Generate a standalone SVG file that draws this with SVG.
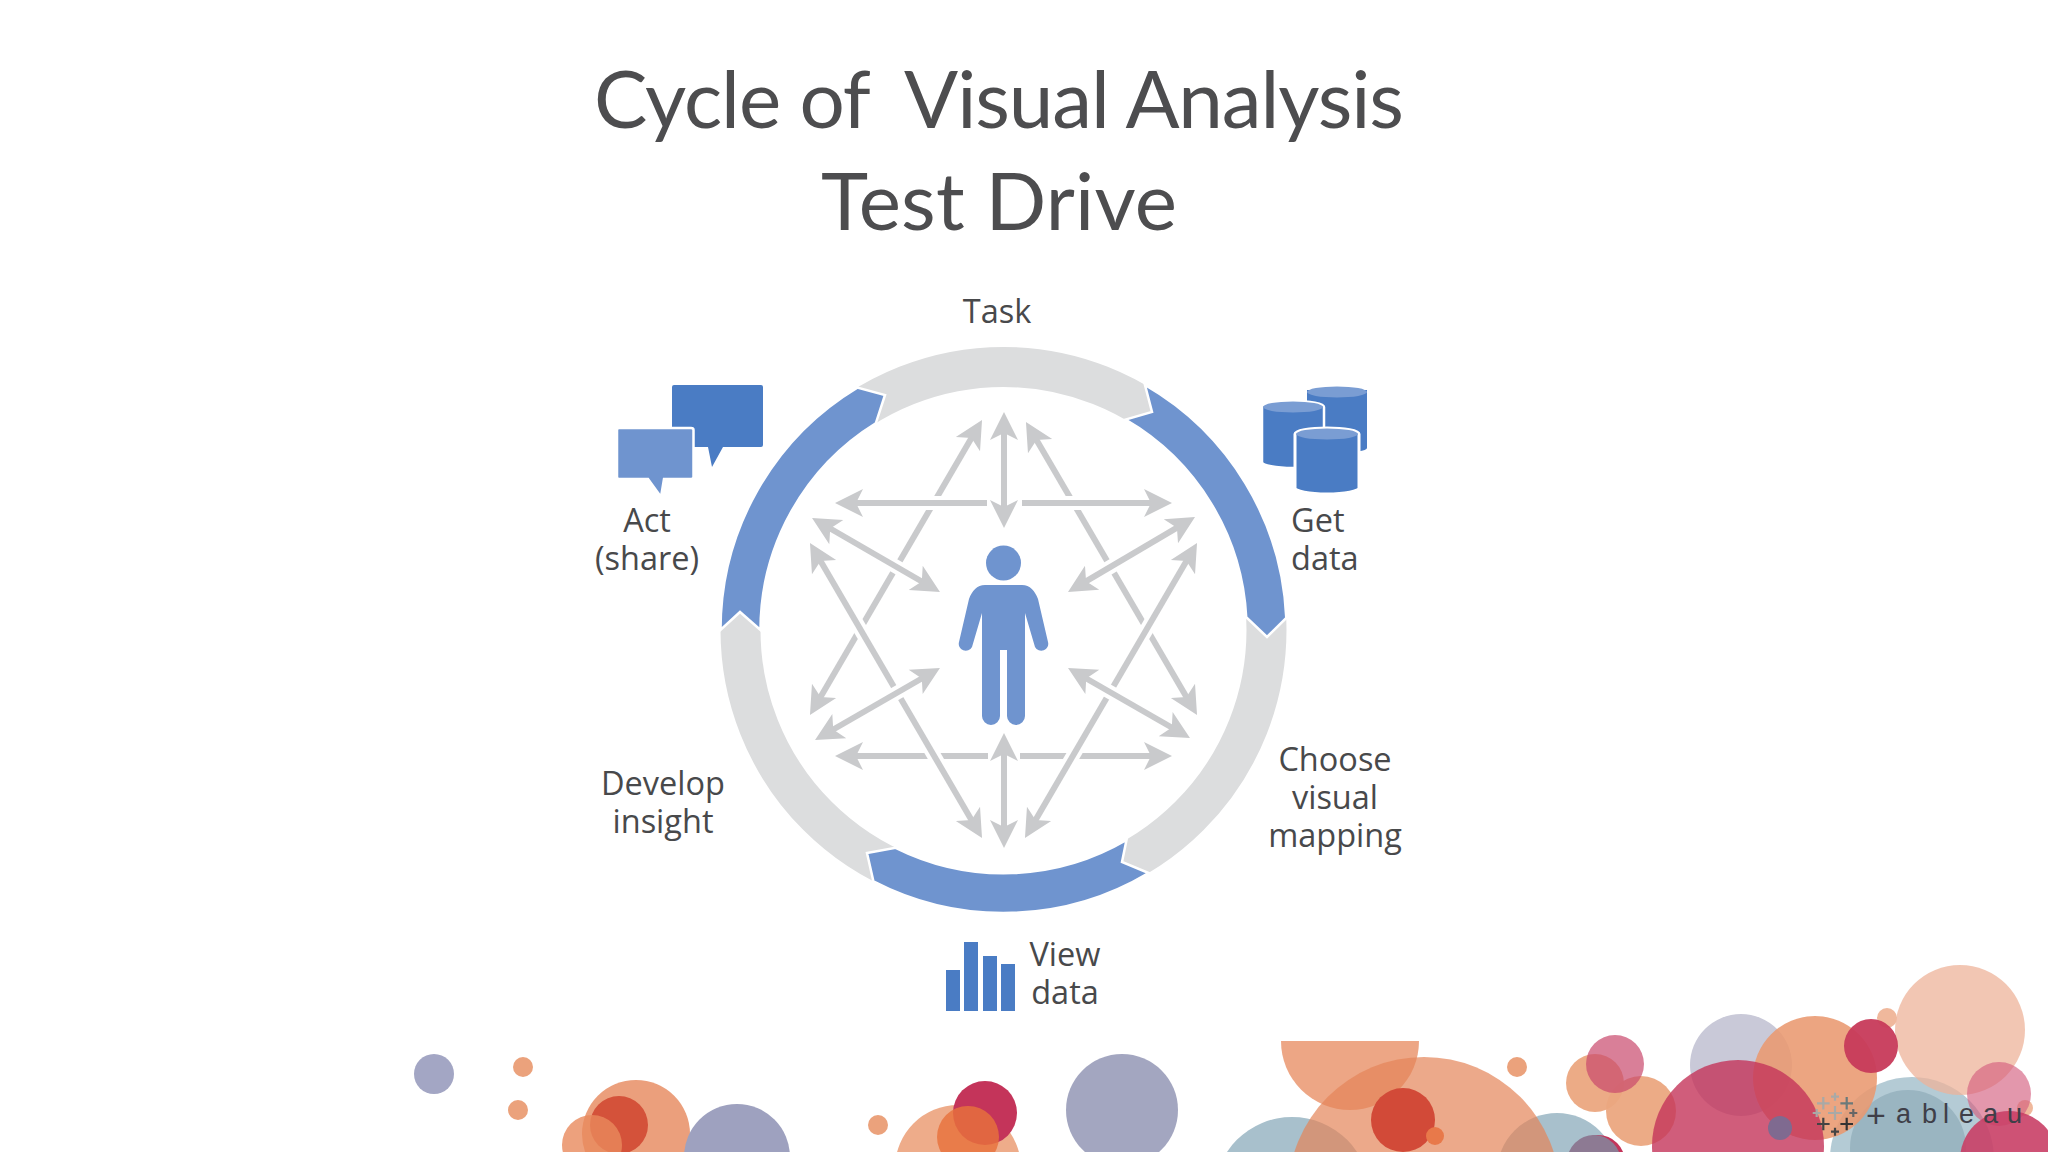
<svg xmlns="http://www.w3.org/2000/svg" width="2048" height="1152" viewBox="0 0 2048 1152">
<style>
.t{font-family:"Lato","Liberation Sans",sans-serif;font-size:80px;fill:#4d4d4f;text-anchor:middle;white-space:pre}
.l{font-family:"Open Sans","Noto Sans",sans-serif;font-size:32.5px;fill:#48494b;text-anchor:middle}
.a{fill:none;stroke:#c9cacc;stroke-width:6;marker-end:url(#h)}
.b{fill:none;stroke:#c9cacc;stroke-width:6;marker-start:url(#hs);marker-end:url(#h)}
.w{fill:none;stroke:#fff;stroke-width:14}
.seg{fill:#6f94cf;stroke:#fff;stroke-width:2.5;stroke-linejoin:miter}
.dk{fill:#4a7cc4}
.lt{fill:#7a9dd3}
.x{fill:none;stroke-width:2.2}
</style>
<defs>
<marker id="h" markerUnits="userSpaceOnUse" markerWidth="32" markerHeight="32" refX="18" refY="16" orient="auto">
<path d="M0,2 L28,16 L0,30 L7,16 Z" fill="#c9cacc"/>
</marker>
<marker id="hs" markerUnits="userSpaceOnUse" markerWidth="32" markerHeight="32" refX="10" refY="16" orient="auto">
<path d="M28,2 L0,16 L28,30 L21,16 Z" fill="#c9cacc"/>
</marker>
</defs>
<rect width="2048" height="1152" fill="#fff"/>

<g id="decor">
<circle cx="434" cy="1074" r="20" fill="#a3a6c4"/>
<circle cx="523" cy="1067" r="10" fill="#eba27c"/>
<circle cx="518" cy="1110" r="10" fill="#eba27c"/>
<circle cx="636" cy="1134" r="54" fill="#eb9f7c"/>
<circle cx="619" cy="1125" r="29" fill="#d4523a"/>
<circle cx="592" cy="1145" r="30" fill="#e8895c" opacity=".8"/>
<circle cx="737" cy="1157" r="53" fill="#9ea1bf"/>
<circle cx="878" cy="1125" r="10" fill="#eba27c"/>
<circle cx="958" cy="1168" r="63" fill="#eeac8a"/>
<circle cx="985" cy="1113" r="32" fill="#c4345a"/>
<circle cx="968" cy="1137" r="31" fill="#e8723c" opacity=".82"/>
<circle cx="1122" cy="1110" r="56" fill="#a3a6c0"/>
<path d="M1281,1041 H1419 A69,69 0 0 1 1281,1041 Z" fill="#eb9c78" opacity=".9"/>
<circle cx="1292" cy="1195" r="78" fill="#a8c0cc"/>
<circle cx="1557" cy="1173" r="60" fill="#a8c0cc"/>
<circle cx="1424" cy="1193" r="136" fill="#e48458" opacity=".7"/>
<circle cx="1403" cy="1120" r="32" fill="#d24a38"/>
<circle cx="1435" cy="1136" r="9" fill="#e8794a"/>
<circle cx="1598" cy="1162" r="27" fill="#c4345a"/>
<circle cx="1594" cy="1162" r="27" fill="#8d7a93"/>
<circle cx="1517" cy="1067" r="10" fill="#eba27c"/>
<circle cx="1595" cy="1083" r="29" fill="#eba680" opacity=".95"/>
<circle cx="1641" cy="1111" r="35" fill="#eba680" opacity=".95"/>
<circle cx="1615" cy="1064" r="29" fill="#c9486c" opacity=".7"/>
<circle cx="1912" cy="1159" r="82" fill="#b4cbd5"/>
<circle cx="1908" cy="1148" r="58" fill="#9ab5c1"/>
<circle cx="1960" cy="1030" r="65" fill="#eeb39a" opacity=".75"/>
<circle cx="1887" cy="1018" r="10" fill="#f0b89c"/>
<circle cx="1741" cy="1065" r="51" fill="#c9c9d8"/>
<circle cx="1815" cy="1078" r="62" fill="#e9986f" opacity=".88"/>
<circle cx="1738" cy="1146" r="86" fill="#c4345a" opacity=".8"/>
<circle cx="1871" cy="1046" r="27" fill="#c73a5a" opacity=".95"/>
<circle cx="1780" cy="1128" r="12" fill="#7f6a90"/>
<circle cx="2025" cy="1108" r="8" fill="#f0b89c"/>
<circle cx="1999" cy="1094" r="32" fill="#d4607f" opacity=".65"/>
<circle cx="2009" cy="1160" r="49" fill="#c93f66" opacity=".9"/>
</g>

<g id="tableau-logo">
<path class="x" stroke="#a9a9a6" d="M1817,1103.3h12.6M1823.3,1097v12.6"/>
<path class="x" stroke="#a9a9a6" d="M1831,1096.7h8M1835,1092.7v8"/>
<path class="x" stroke="#6b7a7a" d="M1840.4,1103.3h12.6M1846.7,1097v12.6"/>
<path class="x" stroke="#a9a9a6" d="M1828,1113h14M1835,1106v14"/>
<path class="x" stroke="#a9a9a6" d="M1812.7,1113h8M1816.7,1109v8"/>
<path class="x" stroke="#666" d="M1849.3,1113h8M1853.3,1109v8"/>
<path class="x" stroke="#444" d="M1817,1124h12.6M1823.3,1117.7v12.6"/>
<path class="x" stroke="#444" d="M1831,1131.7h8M1835,1127.7v8"/>
<path class="x" stroke="#333" d="M1840.4,1124h12.6M1846.7,1117.7v12.6"/>
<text x="1866 1896 1922 1943 1959 1983 2007" y="1123" font-family="Liberation Sans, sans-serif" font-size="27" fill="#3f3f48"><tspan font-size="34" y="1127">+</tspan><tspan y="1123">ableau</tspan></text>
</g>

<g id="title">
<text class="t" x="999" y="128" textLength="810" lengthAdjust="spacing">Cycle of  Visual Analysis</text>
<text class="t" x="999" y="230" textLength="356" lengthAdjust="spacing">Test Drive</text>
</g>

<g id="ring">
<circle cx="1003.5" cy="630" r="263" fill="none" stroke="#dcddde" stroke-width="40"/>
<path class="seg" d="M1145,385 A283,283 0 0 1 1286.3,618 L1267,637 L1246.2,617.1 A243,243 0 0 0 1125.5,419.6 L1152,412 Z"/>
<path class="seg" d="M720.5,630 A283,283 0 0 1 857.3,387.6 L885,395 L875.8,423.3 A243,243 0 0 0 760.5,630 L740,612 Z"/>
<path class="seg" d="M873.4,881.3 A283,283 0 0 0 1148.6,873 L1122,862 L1126.5,840 A243,243 0 0 1 895.6,847.8 L867,853 Z"/>
</g>

<g id="connectors">
<path class="a" d="M988,756 H845"/>
<path class="a" d="M1020,756 H1162"/>
<path class="b" d="M977,428.6 L815,706.4"/>
<path class="b" d="M1031,430.6 L1192,706.4"/>
<path class="w" d="M815,551.6 L977,829.4"/>
<path class="b" d="M815,551.6 L977,829.4"/>
<path class="w" d="M1192,551.6 L1030,829.4"/>
<path class="b" d="M1192,551.6 L1030,829.4"/>
<path class="w" d="M987,503 H845"/>
<path class="a" d="M987,503 H845"/>
<path class="w" d="M1022,503 H1162"/>
<path class="a" d="M1022,503 H1162"/>
<path class="w" d="M820.7,523 L931.3,587"/>
<path class="b" d="M820.7,523 L931.3,587"/>
<path class="w" d="M1186.4,522.1 L1076.6,586.9"/>
<path class="b" d="M1186.4,522.1 L1076.6,586.9"/>
<path class="w" d="M931.3,673 L823.7,735"/>
<path class="b" d="M931.3,673 L823.7,735"/>
<path class="w" d="M1076.7,673 L1181.3,733"/>
<path class="b" d="M1076.7,673 L1181.3,733"/>
<path class="b" d="M1004,422 V518"/>
<path class="b" d="M1004,743 V838"/>
</g>

<g id="person">
<circle cx="1003.5" cy="563" r="17.5" fill="#6f94cf"/>
<path fill="#6f94cf" d="M985,585 H1022 C1030,585 1035,591 1038,599 L1048,642 A7,7 0 0 1 1035,647 L1025,613 V716 A9,9 0 0 1 1007,716 V650 H1000 V716 A9,9 0 0 1 982,716 V613 L972,647 A7,7 0 0 1 959,642 L969,599 C972,591 977,585 985,585 Z"/>
</g>

<g id="task"><text class="l" x="997" y="323">Task</text></g>

<g id="get-data">
<path class="dk" d="M1307,390 H1367 V448 A30,5 0 0 1 1307,448 Z"/>
<ellipse class="lt" cx="1337" cy="392" rx="30" ry="5.500"/>
<path class="dk" stroke="#fff" stroke-width="2.5" d="M1262,407 A31,6 0 0 1 1324,407 V462 A31,6 0 0 1 1262,462 Z"/>
<ellipse class="lt" cx="1293" cy="407" rx="30" ry="5.500"/>
<path class="dk" stroke="#fff" stroke-width="3" d="M1295,434 A32,6 0 0 1 1359,434 V488 A32,6 0 0 1 1295,488 Z"/>
<ellipse class="lt" cx="1327" cy="434" rx="31" ry="5.500"/>
<text class="l" x="1291" y="532" style="text-anchor:start">Get</text>
<text class="l" x="1291" y="570" style="text-anchor:start">data</text>
</g>

<g id="act">
<path class="dk" d="M674,385 H761 Q763,385 763,387 V445 Q763,447 761,447 H723 L712,467 L708,447 H674 Q672,447 672,445 V387 Q672,385 674,385 Z"/>
<path fill="#6f94cf" stroke="#fff" stroke-width="2.5" d="M619,428 H691 Q693.500,428 693.500,430 V477 Q693.500,479 691,479 H664 L661,497 L648,479 H619 Q617,479 617,477 V430 Q617,428 619,428 Z"/>
<text class="l" x="647" y="532">Act</text>
<text class="l" x="647" y="570">(share)</text>
</g>

<g id="develop-insight">
<text class="l" x="663" y="795">Develop</text>
<text class="l" x="663" y="833">insight</text>
</g>

<g id="choose-visual-mapping">
<text class="l" x="1335" y="771">Choose</text>
<text class="l" x="1335" y="809">visual</text>
<text class="l" x="1335" y="847">mapping</text>
</g>

<g id="view-data">
<rect class="dk" x="946" y="970" width="14" height="41"/>
<rect class="dk" x="964" y="942" width="14" height="69"/>
<rect class="dk" x="983" y="956" width="14" height="55"/>
<rect class="dk" x="1001" y="964" width="14" height="47"/>
<text class="l" x="1065" y="966">View</text>
<text class="l" x="1065" y="1004">data</text>
</g>
</svg>
